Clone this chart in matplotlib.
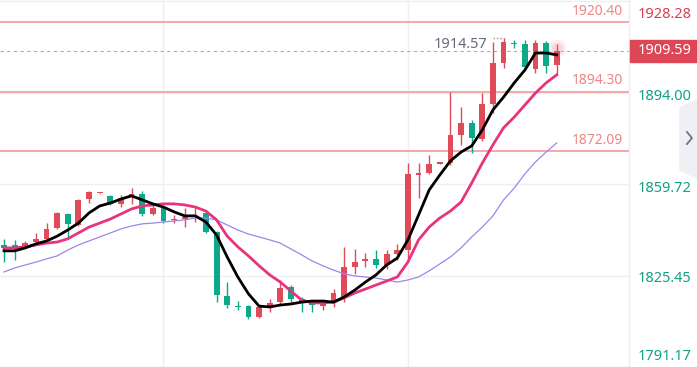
import numpy as np
import matplotlib.pyplot as plt
from matplotlib.patches import Polygon

plt.rcParams['font.family'] = ['Noto Sans', 'DejaVu Sans']

# candle data (red = up, green = down)
opens = [1836.9, 1836.9, 1836.2, 1838.0, 1839.2, 1843.3, 1848.5, 1844.4, 1854.1, 1856.2,
         1855.2, 1852.3, 1854.9, 1856.0, 1848.5, 1851.1, 1846.3, 1846.6, 1847.4, 1848.9,
         1841.8, 1817.8, 1814.0, 1814.0, 1809.9, 1814.0, 1815.5, 1821.2, 1816.7, 1815.5,
         1814.0, 1815.5, 1817.0, 1828.7, 1830.9, 1831.7, 1829.4, 1833.5, 1835.0, 1863.1,
         1863.9, 1867.4, 1867.6, 1878.1, 1882.6, 1876.6, 1889.7, 1905.0, 1912.5, 1912.2,
         1902.8, 1912.5, 1904.3]
closes = [1835.8, 1835.8, 1837.6, 1839.2, 1842.9, 1848.9, 1844.8, 1853.8, 1856.7, 1856.4,
          1852.3, 1854.5, 1856.0, 1848.5, 1850.8, 1845.9, 1846.6, 1847.4, 1847.8, 1841.8,
          1818.2, 1814.4, 1813.7, 1809.9, 1813.7, 1815.2, 1820.8, 1816.7, 1815.2, 1814.4,
          1815.2, 1818.9, 1828.7, 1830.5, 1831.7, 1829.4, 1833.5, 1835.0, 1863.5, 1863.9,
          1867.2, 1867.6, 1878.1, 1882.6, 1877.0, 1889.7, 1905.0, 1912.9, 1912.2, 1903.6,
          1912.5, 1903.9, 1909.59]
highs = [1839.2, 1838.8, 1838.4, 1841.4, 1845.1, 1849.3, 1848.9, 1854.1, 1857.1, 1856.5,
         1855.6, 1855.6, 1858.2, 1857.1, 1852.6, 1851.5, 1848.1, 1850.8, 1851.5, 1849.3,
         1842.1, 1823.0, 1815.9, 1814.4, 1814.4, 1816.7, 1823.8, 1821.9, 1817.4, 1816.3,
         1816.7, 1820.4, 1836.2, 1835.4, 1833.9, 1835.0, 1835.0, 1837.3, 1867.6, 1867.6,
         1870.6, 1867.7, 1894.3, 1888.6, 1883.7, 1893.8, 1912.9, 1914.57, 1913.7, 1913.7,
         1913.7, 1913.3, 1912.2]
lows = [1830.5, 1831.3, 1835.8, 1837.3, 1838.8, 1842.9, 1839.2, 1844.0, 1852.6, 1856.0,
        1851.9, 1851.1, 1852.3, 1847.8, 1848.1, 1845.1, 1845.1, 1843.6, 1845.5, 1841.4,
        1815.5, 1813.3, 1812.6, 1809.2, 1809.5, 1811.8, 1814.8, 1815.5, 1811.8, 1811.8,
        1812.6, 1813.7, 1815.5, 1826.0, 1828.7, 1828.3, 1827.9, 1831.3, 1831.7, 1854.5,
        1863.5, 1867.2, 1866.9, 1874.3, 1871.4, 1875.8, 1886.3, 1903.2, 1910.7, 1903.2,
        1901.3, 1901.3, 1900.6]

ma_black = [1834.7, 1834.7, 1835.8, 1837.3, 1838.4, 1840.2, 1842.5, 1845.1, 1848.9, 1851.5,
            1852.6, 1854.1, 1855.3, 1853.8, 1852.3, 1851.1, 1849.3, 1847.8, 1847.8, 1845.5,
            1840.6, 1832.4, 1824.9, 1818.6, 1814.0, 1813.7, 1814.4, 1814.8, 1815.5, 1815.9,
            1815.9, 1815.5, 1817.4, 1820.0, 1823.0, 1825.7, 1829.4, 1832.0, 1838.8, 1848.1,
            1857.5, 1863.1, 1868.4, 1871.7, 1874.0, 1880.0, 1887.5, 1892.3, 1897.6, 1902.4,
            1908.8, 1908.8, 1908.1]
ma_pink = [1835.8, 1835.8, 1836.2, 1836.9, 1837.6, 1838.0, 1839.2, 1841.4, 1843.6, 1845.1,
           1846.6, 1848.5, 1850.4, 1851.5, 1851.9, 1852.3, 1852.3, 1851.9, 1851.1, 1849.6,
           1846.3, 1840.2, 1836.2, 1832.8, 1829.1, 1825.7, 1823.0, 1819.6, 1816.3, 1815.2,
           1815.2, 1815.5, 1817.1, 1818.9, 1820.4, 1821.9, 1823.4, 1824.9, 1830.5, 1838.8,
           1843.6, 1847.0, 1849.6, 1853.0, 1860.1, 1867.6, 1874.4, 1880.8, 1884.8, 1889.3,
           1893.8, 1897.6, 1900.6]
ma_purple = [1826.8, 1828.3, 1829.4, 1830.5, 1831.7, 1832.8, 1835.0, 1836.9, 1838.4, 1839.9,
             1841.4, 1842.9, 1844.0, 1844.8, 1845.1, 1845.5, 1845.9, 1846.3, 1847.0, 1847.0,
             1846.3, 1844.4, 1842.5, 1841.0, 1839.9, 1838.8, 1837.6, 1835.4, 1833.2, 1830.9,
             1829.1, 1827.5, 1826.1, 1825.3, 1824.9, 1824.5, 1823.8, 1823.0, 1823.8, 1824.9,
             1827.2, 1829.8, 1832.4, 1835.8, 1839.9, 1843.6, 1847.8, 1853.8, 1858.2, 1863.5,
             1868.0, 1871.7, 1875.1]

axis_ticks = [1928.28, 1894.00, 1859.72, 1825.45, 1791.17]
levels = [1920.40, 1894.30, 1872.09]
last_price = 1909.59
max_high = 1914.57

RED = '#e04b5a'
GREEN = '#0ea88a'

W, H = 697, 367
fig = plt.figure(figsize=(W / 100, H / 100), dpi=100)
ax = fig.add_axes([0, 0, 629 / W, 1])
ax.set_xlim(-0.376, 58.8)
ax.set_ylim(1791.2, 1928.65)
ax.axis('off')

x = np.arange(len(opens))

# grid
for t in axis_ticks:
    ax.axhline(t, color='#efeff2', lw=1, zorder=0)
for gx in [15.0, 38.0]:
    ax.axvline(gx, color='#efeff2', lw=1, zorder=0)

# level lines
for lv in levels:
    ax.axhline(lv, color='#f39090', lw=1.1, zorder=1)
    ax.text(58.2, lv + 1.3, f'{lv:.2f}', color='#f08585', fontsize=10,
            ha='right', va='bottom')

# last price dashed line
ax.axhline(last_price, color='#e9939b', lw=0.8, ls=(0, (3, 3)), zorder=1)

# candles
for i in x:
    o, c, h, l = opens[i], closes[i], highs[i], lows[i]
    col = RED if c >= o else GREEN
    ax.vlines(i, l, h, color=col, lw=1, zorder=3)
    bottom = min(o, c)
    height = max(abs(c - o), 0.4)
    ax.bar(i, height, bottom=bottom, width=0.55, color=col, zorder=4)

# moving averages
ax.plot(x, ma_purple, color='#9c86ec', lw=0.9, zorder=5)
ax.plot(x, ma_pink, color='#e8337e', lw=2.0, zorder=6)
ax.plot(x, ma_black, color='#000000', lw=2.0, zorder=7)

# soft glow on last candle
ax.scatter([x[-1]], [1910.6], s=170, color='#f4b4bc', alpha=0.22, lw=0, zorder=2)
ax.scatter([x[-1]], [1910.6], s=70, color='#f19aa5', alpha=0.25, lw=0, zorder=2)

# max high marker
ax.plot([46.0, 47.0], [max_high, max_high], color='#8a8f9c', lw=1, ls=(0, (1, 1.5)), zorder=8)
ax.text(45.5, max_high + 0.4, f'{max_high:.2f}', color='#656b7a', fontsize=10.5,
        ha='right', va='top', zorder=8)

# right price axis
fig.add_artist(plt.Line2D([629 / W, 629 / W], [0, 1], color='#ececf0', lw=1))
tick_y = [14, 97, 188, 279, 356]
for t, py in zip(axis_ticks, tick_y):
    fig.text(638 / W, 1 - py / H, f'{t:.2f}', color='#d8404f' if t == axis_ticks[0] else '#14a085',
             fontsize=10.5, ha='left', va='center')

# last price tag
box_y = 1 - 51 / H
fig.patches.append(plt.Rectangle((630 / W, 1 - 62 / H), 67 / W, 22 / H,
                                 transform=fig.transFigure, color='#dc4655', zorder=5))
fig.text(638 / W, box_y, f'{last_price:.2f}', color='white', fontsize=10.5,
         ha='left', va='center', zorder=6)

# side tab with chevron
tab = Polygon([(697 / W, 1 - 100 / H), (680 / W, 1 - 108 / H), (680 / W, 1 - 170 / H),
               (697 / W, 1 - 178 / H)], closed=True, transform=fig.transFigure,
              color='#eef0f4', zorder=5)
fig.patches.append(tab)
fig.add_artist(plt.Line2D([687 / W, 692 / W, 687 / W],
                          [1 - 132 / H, 1 - 138 / H, 1 - 144 / H],
                          color='#6f7480', lw=1.3, zorder=6))

fig.savefig('out.png', dpi=100)
